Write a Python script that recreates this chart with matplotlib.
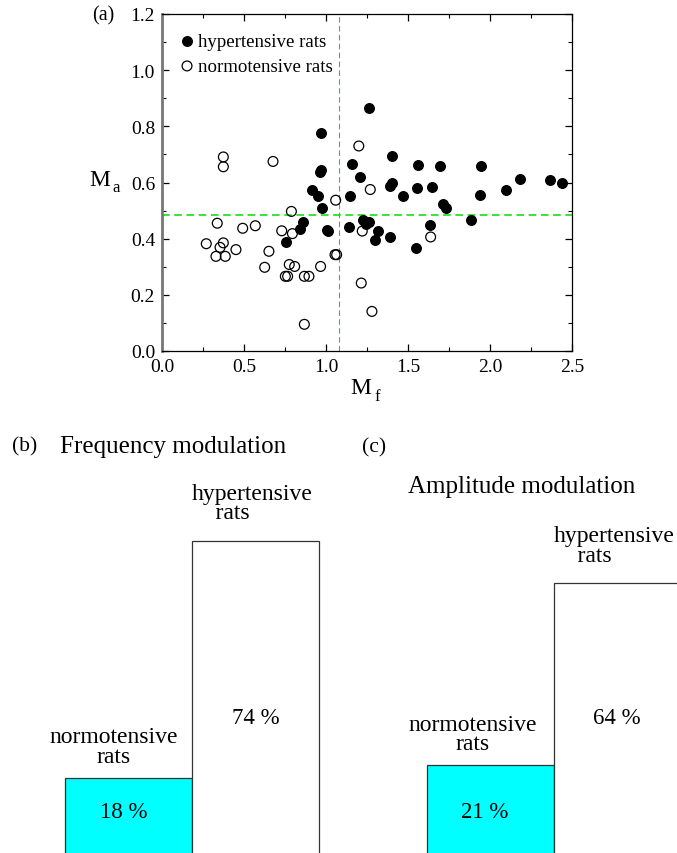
import matplotlib
matplotlib.use("Agg")
import matplotlib.pyplot as plt
from matplotlib.ticker import MultipleLocator

plt.rcParams['font.family'] = ['Liberation Serif', 'DejaVu Serif']
plt.rcParams['mathtext.fontset'] = 'stix'

# (a) scatter data: modulation of frequency (Mf) vs amplitude (Ma)
hyper_mf = [1.264, 0.970, 1.40, 1.157, 1.563, 1.695, 1.943, 0.963, 0.970, 1.205,
            1.39, 1.40, 1.557, 1.648, 2.098, 2.18, 2.364, 2.437, 0.917, 0.949,
            1.145, 1.468, 1.939, 1.715, 1.73, 0.977, 1.224, 1.264, 1.244, 0.862,
            0.843, 1.008, 1.014, 1.142, 1.315, 1.299, 1.392, 1.547, 1.632, 1.886,
            0.756]
hyper_ma = [0.866, 0.775, 0.693, 0.666, 0.664, 0.657, 0.658, 0.639, 0.645, 0.618,
            0.588, 0.597, 0.581, 0.583, 0.572, 0.614, 0.608, 0.598, 0.573, 0.553,
            0.553, 0.553, 0.554, 0.523, 0.509, 0.509, 0.467, 0.461, 0.452, 0.460,
            0.434, 0.432, 0.426, 0.440, 0.426, 0.394, 0.405, 0.368, 0.450, 0.466,
            0.388]
normo_mf = [1.20, 1.27, 1.059, 0.374, 0.374, 0.677, 0.789, 0.337, 0.569, 0.492,
            0.73, 0.795, 1.221, 1.638, 0.27, 0.374, 0.354, 0.451, 0.329, 0.386,
            0.652, 1.055, 1.065, 0.626, 0.776, 0.809, 0.967, 0.752, 0.766, 0.868,
            0.896, 0.868, 1.215, 1.28]
normo_ma = [0.73, 0.575, 0.537, 0.691, 0.656, 0.675, 0.497, 0.455, 0.446, 0.437,
            0.428, 0.418, 0.427, 0.406, 0.382, 0.385, 0.369, 0.361, 0.337, 0.337,
            0.355, 0.343, 0.343, 0.298, 0.308, 0.301, 0.301, 0.266, 0.266, 0.266,
            0.266, 0.095, 0.242, 0.141]
mf_threshold = 1.08
ma_threshold = 0.485

# (b), (c) bar data (percent)
freq_pct = [18, 74]
ampl_pct = [21, 64]
groups = ['normotensive\nrats', 'hypertensive\n    rats']

W, H = 677, 854
fig = plt.figure(figsize=(W / 100, H / 100), dpi=100)

# ---- panel (a)
ax = fig.add_axes([162 / W, 1 - 352 / H, 410 / W, 337 / H])
ax.scatter(hyper_mf, hyper_ma, s=50, c='black', edgecolors='black', linewidths=0.8,
           label='hypertensive rats', zorder=3)
ax.scatter(normo_mf, normo_ma, s=50, facecolors='none', edgecolors='black', linewidths=0.9,
           label='normotensive rats', zorder=3)
ax.axhline(ma_threshold, color='#00dd00', ls=(0, (5, 3)), lw=1.1, zorder=1)
ax.axvline(mf_threshold, color='#55aa55', ls=(0, (5, 3)), lw=0.8, zorder=1)
ax.set_xlim(0, 2.5)
ax.set_ylim(0, 1.2)
ax.xaxis.set_major_locator(MultipleLocator(0.5))
ax.xaxis.set_minor_locator(MultipleLocator(0.25))
ax.yaxis.set_major_locator(MultipleLocator(0.2))
ax.yaxis.set_minor_locator(MultipleLocator(0.1))
ax.xaxis.set_major_formatter(lambda v, p: f'{v:.1f}')
ax.yaxis.set_major_formatter(lambda v, p: f'{v:.1f}')
ax.tick_params(which='both', direction='in', top=True, right=True, labelsize=14)
ax.tick_params(which='major', length=5, width=0.9, pad=5)
ax.tick_params(which='minor', length=3, width=0.8)
ax.spines['left'].set_color('#777777')
ax.spines['left'].set_linewidth(2)
for s in ['top', 'right', 'bottom']:
    ax.spines[s].set_linewidth(0.9)
ax.legend(loc='upper left', frameon=False, fontsize=13.6, handletextpad=0.26,
          borderaxespad=0.6, labelspacing=0.4, handlelength=0.65, borderpad=0.4)

fig.text(92 / W, 1 - 16 / H, '(a)', fontsize=14.5, va='center')
fig.text(89 / W, 1 - 180 / H, 'M', fontsize=17, va='center')
fig.text(112 / W, 1 - 188 / H, 'a', fontsize=12, va='center')
fig.text(350 / W, 1 - 388 / H, 'M', fontsize=17, va='center')
fig.text(374 / W, 1 - 397 / H, 'f', fontsize=12, va='center')

# ---- panels (b) and (c)
def bar_panel(left_px, pct, norm_x):
    bx = fig.add_axes([left_px / W, -1 / H, 254 / W, 422.7 / H])
    bars = bx.bar([0, 1], pct, width=1.0, color=['#00ffff', 'white'],
                  edgecolor='#333333', linewidth=0.9)
    for b in bars:
        b.set_clip_on(False)
    bx.set_xlim(-0.5, 1.5)
    bx.set_ylim(0, 100)
    bx.axis('off')
    bx.text(norm_x, pct[0] + 7.4, groups[0], ha='center', va='center',
            fontsize=17, linespacing=0.9)
    bx.text(0.5, pct[1] + 9.0, groups[1], ha='left', va='center',
            fontsize=17, linespacing=0.9, multialignment='left')
    bx.text(-0.04, 10.1, f'{pct[0]} %', ha='center', va='center', fontsize=16.5)
    bx.text(1.0, 32.4, f'{pct[1]} %', ha='center', va='center', fontsize=16.5)
    return bx

bar_panel(65, freq_pct, -0.12)
bar_panel(426.5, ampl_pct, -0.14)

fig.text(12 / W, 1 - 447 / H, '(b)', fontsize=15.5, va='center')
fig.text(60 / W, 1 - 447 / H, 'Frequency modulation', fontsize=18, va='center')
fig.text(362 / W, 1 - 448 / H, '(c)', fontsize=15.5, va='center')
fig.text(408 / W, 1 - 487 / H, 'Amplitude modulation', fontsize=18, va='center')

fig.savefig('out.png', dpi=100)
